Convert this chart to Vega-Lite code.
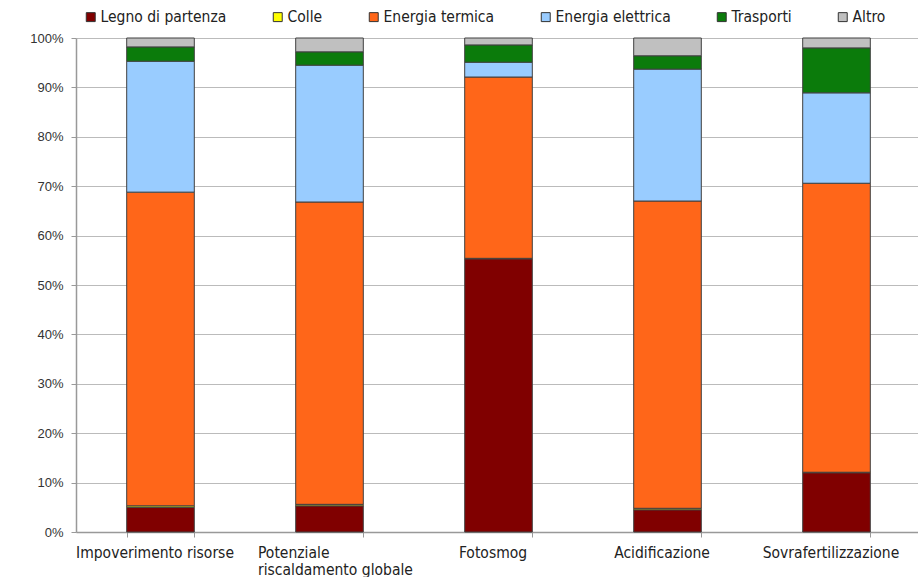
{
  "$schema": "https://vega.github.io/schema/vega-lite/v6.json",
  "autosize": "none",
  "width": 845,
  "height": 494,
  "padding": {"left": 76, "top": 38, "right": 0, "bottom": 45},
  "background": "white",
  "data": {
    "values": [
      {"cat": "Impoverimento risorse", "comp": "Legno di partenza", "o": 1, "v": 5.0},
      {"cat": "Impoverimento risorse", "comp": "Colle", "o": 2, "v": 0.3},
      {"cat": "Impoverimento risorse", "comp": "Energia termica", "o": 3, "v": 63.5},
      {"cat": "Impoverimento risorse", "comp": "Energia elettrica", "o": 4, "v": 26.5},
      {"cat": "Impoverimento risorse", "comp": "Trasporti", "o": 5, "v": 2.9},
      {"cat": "Impoverimento risorse", "comp": "Altro", "o": 6, "v": 1.8},
      {"cat": "Potenziale riscaldamento globale", "comp": "Legno di partenza", "o": 1, "v": 5.3},
      {"cat": "Potenziale riscaldamento globale", "comp": "Colle", "o": 2, "v": 0.3},
      {"cat": "Potenziale riscaldamento globale", "comp": "Energia termica", "o": 3, "v": 61.2},
      {"cat": "Potenziale riscaldamento globale", "comp": "Energia elettrica", "o": 4, "v": 27.7},
      {"cat": "Potenziale riscaldamento globale", "comp": "Trasporti", "o": 5, "v": 2.7},
      {"cat": "Potenziale riscaldamento globale", "comp": "Altro", "o": 6, "v": 2.8},
      {"cat": "Fotosmog", "comp": "Legno di partenza", "o": 1, "v": 55.3},
      {"cat": "Fotosmog", "comp": "Colle", "o": 2, "v": 0.1},
      {"cat": "Fotosmog", "comp": "Energia termica", "o": 3, "v": 36.7},
      {"cat": "Fotosmog", "comp": "Energia elettrica", "o": 4, "v": 3.0},
      {"cat": "Fotosmog", "comp": "Trasporti", "o": 5, "v": 3.5},
      {"cat": "Fotosmog", "comp": "Altro", "o": 6, "v": 1.4},
      {"cat": "Acidificazione", "comp": "Legno di partenza", "o": 1, "v": 4.5},
      {"cat": "Acidificazione", "comp": "Colle", "o": 2, "v": 0.3},
      {"cat": "Acidificazione", "comp": "Energia termica", "o": 3, "v": 62.2},
      {"cat": "Acidificazione", "comp": "Energia elettrica", "o": 4, "v": 26.7},
      {"cat": "Acidificazione", "comp": "Trasporti", "o": 5, "v": 2.7},
      {"cat": "Acidificazione", "comp": "Altro", "o": 6, "v": 3.6},
      {"cat": "Sovrafertilizzazione", "comp": "Legno di partenza", "o": 1, "v": 12.0},
      {"cat": "Sovrafertilizzazione", "comp": "Colle", "o": 2, "v": 0.1},
      {"cat": "Sovrafertilizzazione", "comp": "Energia termica", "o": 3, "v": 58.5},
      {"cat": "Sovrafertilizzazione", "comp": "Energia elettrica", "o": 4, "v": 18.3},
      {"cat": "Sovrafertilizzazione", "comp": "Trasporti", "o": 5, "v": 9.1},
      {"cat": "Sovrafertilizzazione", "comp": "Altro", "o": 6, "v": 2.0}
    ]
  },
  "mark": {"type": "bar", "stroke": "#404040", "strokeWidth": 1},
  "encoding": {
    "x": {
      "field": "cat",
      "type": "nominal",
      "sort": null,
      "scale": {"paddingInner": 0.6, "paddingOuter": 0.3},
      "axis": {
        "title": null,
        "labelAngle": 0,
        "labelExpr": "datum.value == 'Potenziale riscaldamento globale' ? ['Potenziale', 'riscaldamento globale'] : datum.value",
        "labelAlign": {"condition": {"test": "datum.value == 'Potenziale riscaldamento globale'", "value": "left"}, "value": "center"},
        "labelOffset": {"condition": {"test": "datum.value == 'Potenziale riscaldamento globale'", "value": -72}, "value": -6},
        "labelFont": "DejaVu Sans Condensed, DejaVu Sans, sans-serif",
        "labelFontSize": 15.5,
        "labelColor": "#222222",
        "labelPadding": 8,
        "labelLineHeight": 17,
        "tickBand": "extent",
        "tickSize": 5,
        "tickColor": "#999999",
        "domainColor": "#999999",
        "domainWidth": 1.5,
        "grid": false
      }
    },
    "y": {
      "field": "v",
      "type": "quantitative",
      "stack": "zero",
      "scale": {"domain": [0, 100], "nice": false},
      "axis": {
        "title": null,
        "values": [0, 10, 20, 30, 40, 50, 60, 70, 80, 90, 100],
        "labelExpr": "datum.value + '%'",
        "labelFont": "Liberation Sans",
        "labelFontSize": 13,
        "labelColor": "#333333",
        "labelPadding": 8,
        "tickSize": 5,
        "tickColor": "#999999",
        "domainColor": "#999999",
        "domainWidth": 1.5,
        "grid": true,
        "gridColor": "#bbbbbb",
        "gridWidth": 1.2
      }
    },
    "order": {"field": "o", "type": "quantitative"},
    "color": {
      "field": "comp",
      "type": "nominal",
      "scale": {
        "domain": ["Legno di partenza", "Colle", "Energia termica", "Energia elettrica", "Trasporti", "Altro"],
        "range": ["#800000", "#FFFF00", "#FF6619", "#99CCFF", "#0B7B0B", "#C0C0C0"]
      },
      "legend": {
        "title": null,
        "orient": "none",
        "legendX": 7,
        "legendY": -29,
        "direction": "horizontal",
        "columns": 6,
        "columnPadding": 43,
        "symbolType": "square",
        "symbolSize": 80,
        "symbolStrokeColor": "#333333",
        "symbolStrokeWidth": 1,
        "symbolOffset": 0,
        "labelOffset": 2,
        "labelFont": "DejaVu Sans Condensed, DejaVu Sans, sans-serif",
        "labelFontSize": 15.5,
        "labelColor": "#222222"
      }
    }
  },
  "config": {"view": {"stroke": null}}
}
